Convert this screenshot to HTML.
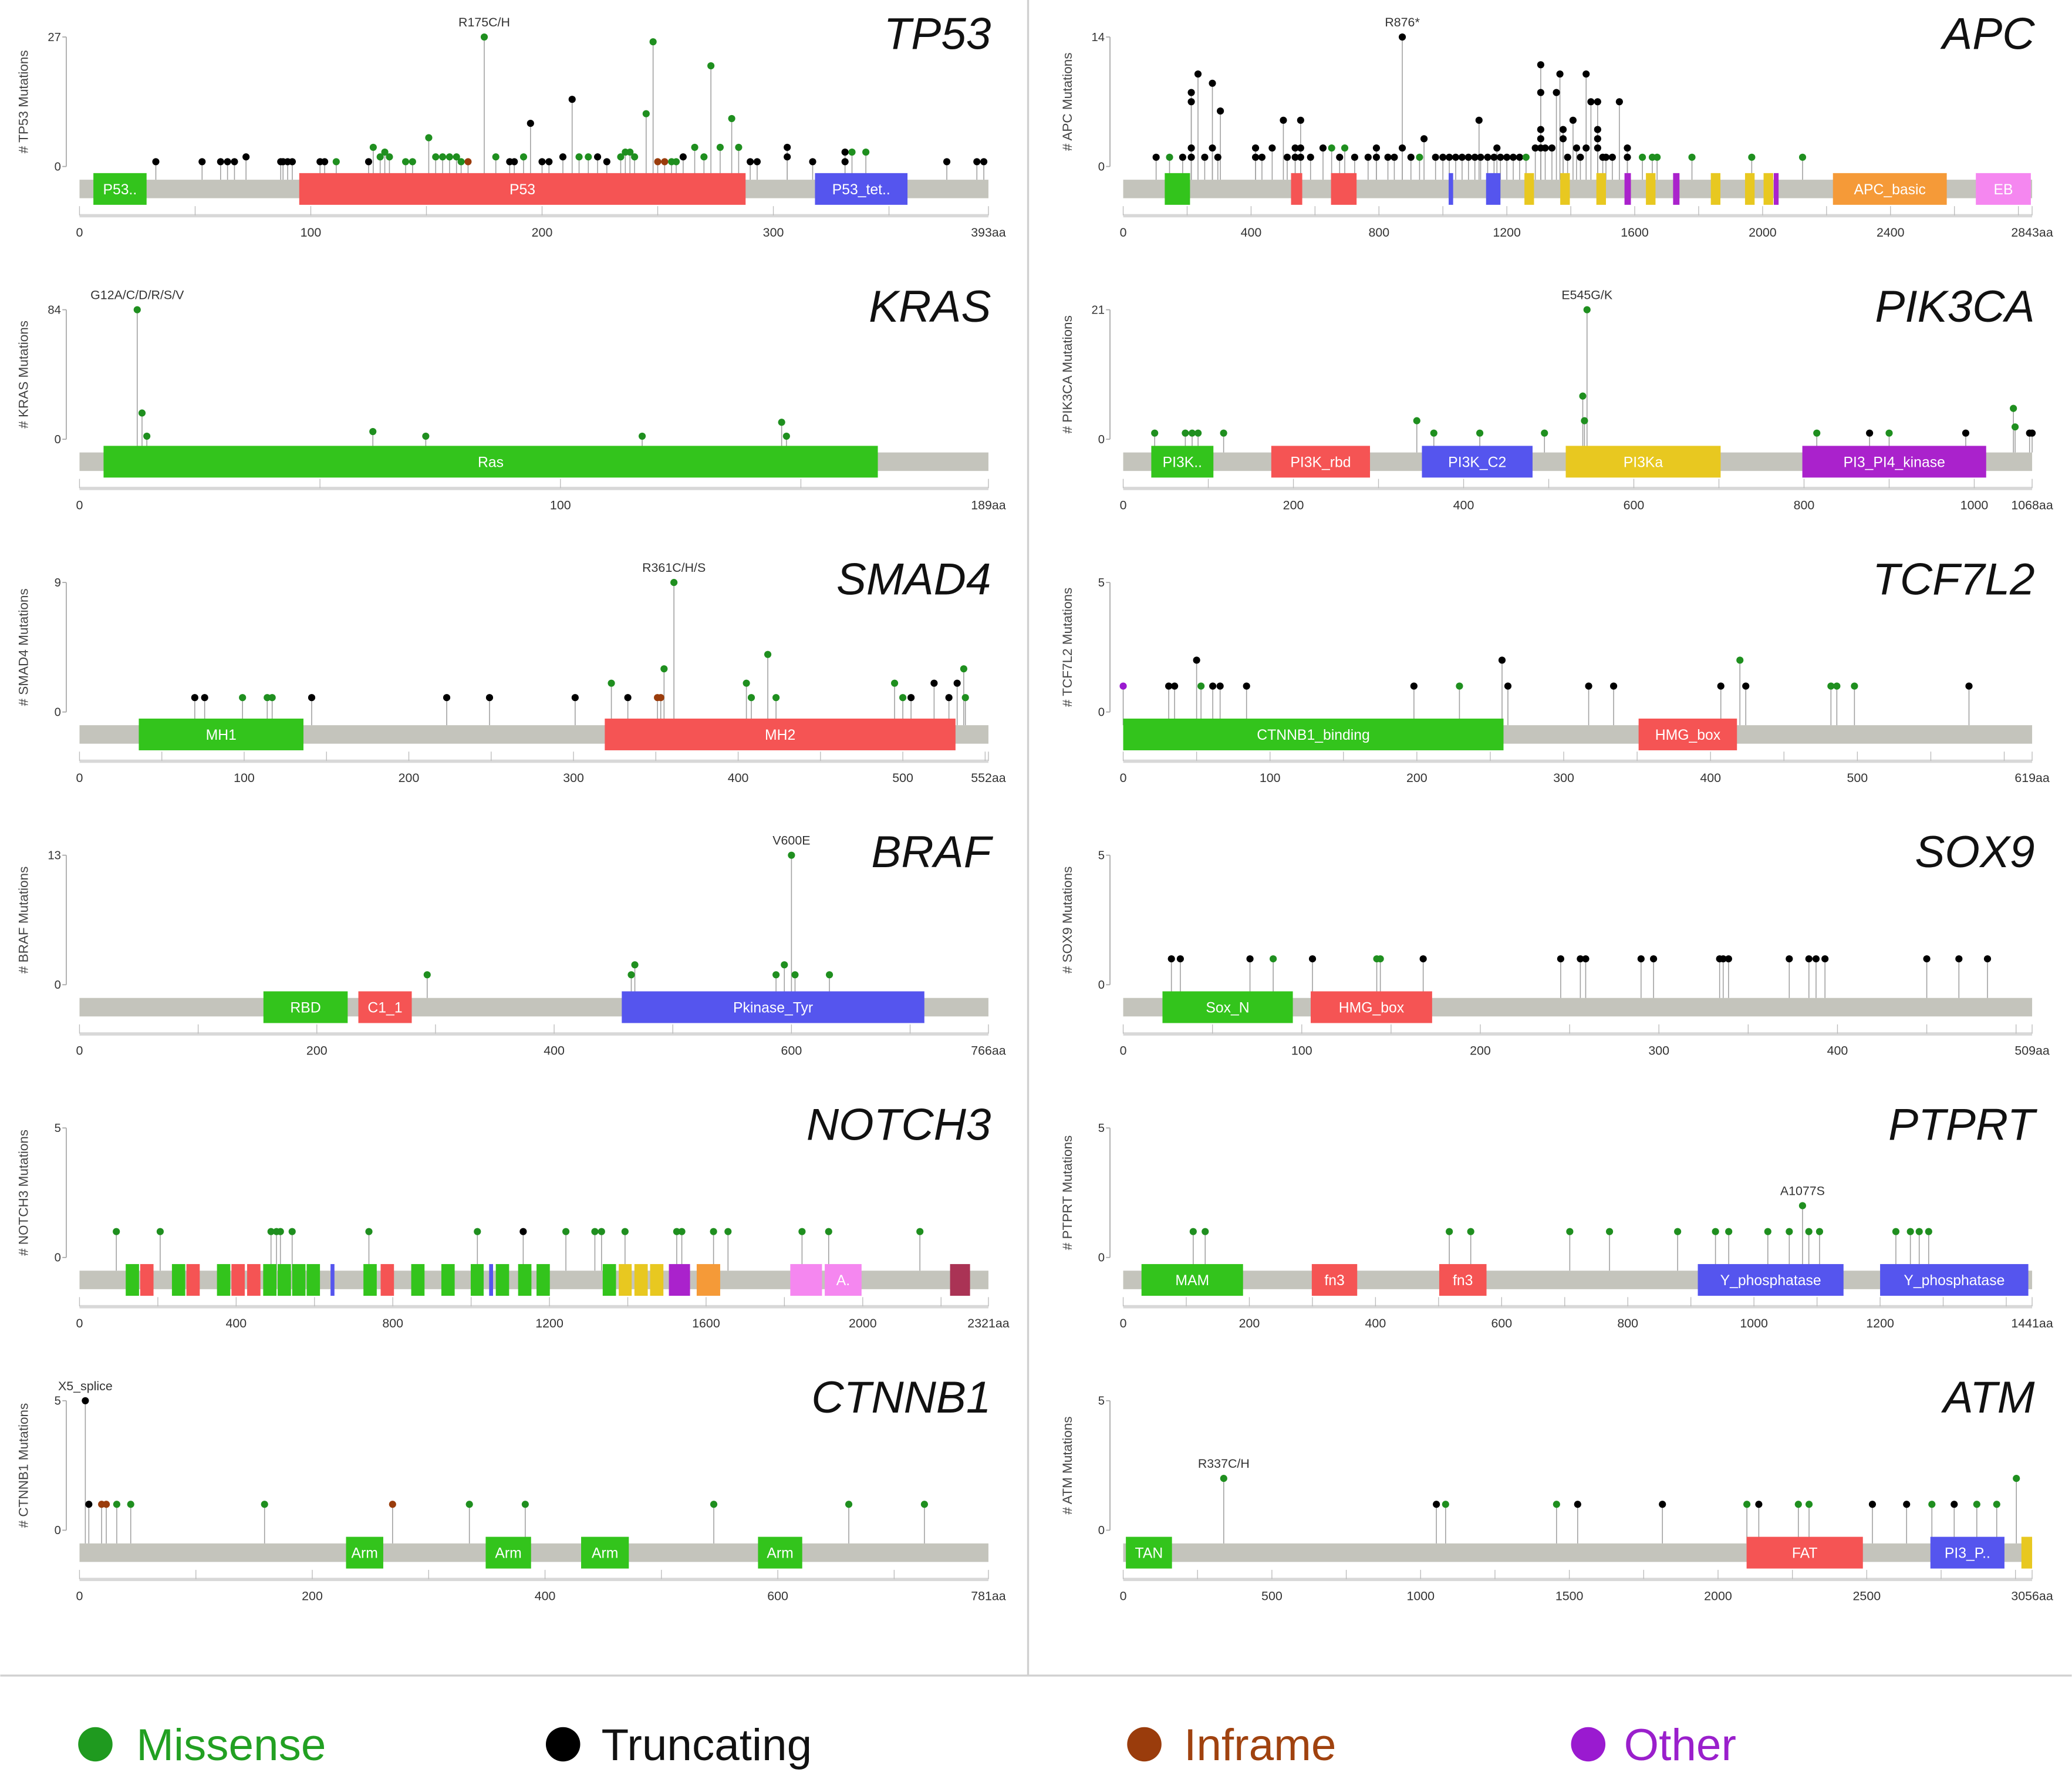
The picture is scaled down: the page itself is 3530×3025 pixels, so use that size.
<!DOCTYPE html>
<html><head><meta charset="utf-8"><style>
html,body{margin:0;padding:0;background:#fff}
svg{display:block}
text{font-family:"Liberation Sans",sans-serif}
</style></head><body>
<svg id="fig" xmlns="http://www.w3.org/2000/svg" width="3530" height="3025" viewBox="0 0 1568 1344">
<rect x="0" y="0" width="1568" height="1344" fill="#fff"/>
<line x1="778" y1="0" x2="778" y2="1268" stroke="#d0d0d0" stroke-width="1.5"/>
<line x1="0" y1="1268" x2="1568" y2="1268" stroke="#d0d0d0" stroke-width="1.5"/>
<g id="legend">
 <g><circle cx="72" cy="1320" r="13" fill="#1f9a1f"/><text x="103" y="1332" font-size="34" fill="#22a022">Missense</text></g>
 <g><circle cx="426" cy="1320" r="13" fill="#000"/><text x="455" y="1332" font-size="34" fill="#111">Truncating</text></g>
 <g><circle cx="866" cy="1320" r="13" fill="#9a3c0c"/><text x="896" y="1332" font-size="34" fill="#a0420f">Inframe</text></g>
 <g><circle cx="1202" cy="1320" r="13" fill="#9a1ad0"/><text x="1229" y="1332" font-size="34" fill="#9a1fcc">Other</text></g>
</g>
</svg>
<script>
// ---------- data ----------
const TP53_pos=[33,53,61,64,67,72,87,88,90,92,104,106,111,125,127,130,132,134,141,144,151,154,157,160,163,165,168,175,180,186,188,192,195,200,203,209,213,216,220,224,228,234,236,238,240,245,248,250,253,256,258,261,266,270,273,277,282,285,290,293,306,306,317,331,331,334,340,375,388,391];
const TP53_cnt=[1,1,1,1,1,2,1,1,1,1,1,1,1,1,4,2,3,2,1,1,6,2,2,2,2,1,1,27,2,1,1,2,9,1,1,2,14,2,2,2,1,2,3,3,2,11,26,1,1,1,1,2,4,2,21,4,10,4,1,1,4,2,1,3,1,3,3,1,1,1];
const TP53_type=["t","t","t","t","t","t","t","t","t","t","t","t","m","t","m","m","m","m","m","m","m","m","m","m","m","m","i","m","m","t","t","m","t","t","t","t","t","m","m","t","t","m","m","m","m","m","m","i","i","m","m","t","m","m","m","m","m","m","t","t","t","t","t","t","t","m","m","t","t","t"];
const TP53_dom=[[6,29,"P53..","#33c41c"],[95,288,"P53","#f55454"],[318,358,"P53_tet..","#5555ee"]];

const APC_pos=[103,145,186,213,213,213,213,234,255,279,279,296,304,414,414,434,466,501,513,538,538,555,555,555,586,625,652,677,693,724,766,792,792,828,848,873,873,900,927,941,977,1000,1020,1040,1060,1080,1100,1113,1118,1140,1160,1169,1180,1200,1220,1240,1260,1289,1306,1306,1306,1306,1306,1320,1341,1355,1366,1376,1376,1390,1407,1418,1430,1448,1448,1463,1484,1484,1484,1484,1500,1510,1530,1552,1577,1577,1624,1655,1670,1779,1966,2125];
const APC_cnt=[1,1,1,8,7,2,1,10,1,9,2,1,6,2,1,1,2,5,1,2,1,5,2,1,1,2,2,1,2,1,1,2,1,1,1,14,2,1,1,3,1,1,1,1,1,1,1,5,1,1,1,2,1,1,1,1,1,2,11,8,4,3,2,2,2,8,10,4,3,1,5,2,1,10,2,7,7,4,3,2,1,1,1,7,2,1,1,1,1,1,1,1];
const APC_type=["t","m","t","t","t","t","t","t","t","t","t","t","t","t","t","t","t","t","t","t","t","t","t","t","t","t","m","t","m","t","t","t","t","t","t","t","t","t","m","t","t","t","t","t","t","t","t","t","t","t","t","t","t","t","t","t","m","t","t","t","t","t","t","t","t","t","t","t","t","t","t","t","t","t","t","t","t","t","t","t","t","t","t","t","t","t","m","m","m","m","m","m"];
const APC_dom=[[130,209,"","#33c41c"],[525,560,"","#f55454"],[650,730,"","#f55454"],[1018,1032,"","#5555ee"],[1135,1180,"","#5555ee"],[1255,1285,"","#e8c820"],[1367,1397,"","#e8c820"],[1480,1510,"","#e8c820"],[1568,1588,"","#aa22cc"],[1635,1665,"","#e8c820"],[1720,1740,"","#aa22cc"],[1838,1868,"","#e8c820"],[1945,1975,"","#e8c820"],[2003,2033,"","#e8c820"],[2035,2050,"","#aa22cc"],[2220,2576,"APC_basic","#f59a38"],[2667,2839,"EB","#f587f0"]];

const KRAS_pos=[12,13,14,61,72,117,146,147];
const KRAS_cnt=[84,17,2,5,2,2,11,2];
const KRAS_type=["m","m","m","m","m","m","m","m"];
const KRAS_dom=[[5,166,"Ras","#33c41c"]];

const PIK3CA_pos=[37,73,81,88,118,345,365,419,495,540,542,545,815,877,900,990,1046,1048,1065,1068];
const PIK3CA_cnt=[1,1,1,1,1,3,1,1,1,7,3,21,1,1,1,1,5,2,1,1];
const PIK3CA_type=["m","m","m","m","m","m","m","m","m","m","m","m","m","t","m","t","m","m","t","t"];
const PIK3CA_dom=[[33,106,"PI3K..","#33c41c"],[174,290,"PI3K_rbd","#f55454"],[351,481,"PI3K_C2","#5555ee"],[520,702,"PI3Ka","#e8c820"],[798,1014,"PI3_PI4_kinase","#aa22cc"]];

const SMAD4_pos=[70,76,99,114,117,141,223,249,301,323,333,351,353,355,361,405,408,418,423,495,500,505,519,528,533,537,538];
const SMAD4_cnt=[1,1,1,1,1,1,1,1,1,2,1,1,1,3,9,2,1,4,1,2,1,1,2,1,2,3,1];
const SMAD4_type=["t","t","m","m","m","t","t","t","t","m","t","i","i","m","m","m","m","m","m","m","m","t","t","t","t","m","m"];
const SMAD4_dom=[[36,136,"MH1","#33c41c"],[319,532,"MH2","#f55454"]];

const TCF7L2_pos=[0,31,35,50,53,61,66,84,198,229,258,262,317,334,407,420,424,482,486,498,576];
const TCF7L2_cnt=[1,1,1,2,1,1,1,1,1,1,2,1,1,1,1,2,1,1,1,1,1];
const TCF7L2_type=["o","t","t","t","m","t","t","t","t","m","t","t","t","t","t","m","t","m","m","m","t"];
const TCF7L2_dom=[[0,259,"CTNNB1_binding","#33c41c"],[351,418,"HMG_box","#f55454"]];

const BRAF_pos=[293,465,468,587,594,600,603,632];
const BRAF_cnt=[1,1,2,1,2,13,1,1];
const BRAF_type=["m","m","m","m","m","m","m","m"];
const BRAF_dom=[[155,226,"RBD","#33c41c"],[235,280,"C1_1","#f55454"],[457,712,"Pkinase_Tyr","#5555ee"]];

const SOX9_pos=[27,32,71,84,106,142,144,168,245,256,259,290,297,334,336,339,373,384,388,393,450,468,484];
const SOX9_cnt=[1,1,1,1,1,1,1,1,1,1,1,1,1,1,1,1,1,1,1,1,1,1,1];
const SOX9_type=["t","t","t","m","t","m","m","t","t","t","t","t","t","t","t","t","t","t","t","t","t","t","t"];
const SOX9_dom=[[22,95,"Sox_N","#33c41c"],[105,173,"HMG_box","#f55454"]];

const NOTCH3_pos=[94,206,489,503,513,543,739,1016,1133,1242,1316,1333,1393,1525,1538,1619,1656,1845,1913,2146];
const NOTCH3_cnt=[1,1,1,1,1,1,1,1,1,1,1,1,1,1,1,1,1,1,1,1];
const NOTCH3_type=["m","m","m","m","m","m","m","m","t","m","m","m","m","m","m","m","m","m","m","m"];
const NOTCH3_dom=[[118,152,"","#33c41c"],[155,189,"","#f55454"],[236,270,"","#33c41c"],[273,307,"","#f55454"],[351,385,"","#33c41c"],[388,422,"","#f55454"],[428,462,"","#f55454"],[469,503,"","#33c41c"],[506,540,"","#33c41c"],[543,577,"","#33c41c"],[580,614,"","#33c41c"],[641,651,"","#5555ee"],[725,759,"","#33c41c"],[769,803,"","#f55454"],[847,881,"","#33c41c"],[924,958,"","#33c41c"],[999,1032,"","#33c41c"],[1046,1056,"","#5555ee"],[1063,1097,"","#33c41c"],[1120,1154,"","#33c41c"],[1167,1201,"","#33c41c"],[1336,1370,"","#33c41c"],[1377,1410,"","#e8c820"],[1417,1451,"","#e8c820"],[1457,1491,"","#e8c820"],[1505,1559,"","#aa22cc"],[1576,1636,"","#f59a38"],[1815,1896,"","#f587f0"],[1903,1997,"A.","#f587f0"],[2223,2274,"","#aa3355"]];

const PTPRT_pos=[111,130,517,551,708,771,879,939,960,1022,1056,1077,1087,1104,1225,1248,1262,1277];
const PTPRT_cnt=[1,1,1,1,1,1,1,1,1,1,1,2,1,1,1,1,1,1];
const PTPRT_type=["m","m","m","m","m","m","m","m","m","m","m","m","m","m","m","m","m","m"];
const PTPRT_dom=[[29,190,"MAM","#33c41c"],[299,371,"fn3","#f55454"],[501,576,"fn3","#f55454"],[911,1142,"Y_phosphatase","#5555ee"],[1200,1435,"Y_phosphatase","#5555ee"]];

const CTNNB1_pos=[5,8,19,23,32,44,159,269,335,383,545,661,726];
const CTNNB1_cnt=[5,1,1,1,1,1,1,1,1,1,1,1,1];
const CTNNB1_type=["t","t","i","i","m","m","m","i","m","m","m","m","m"];
const CTNNB1_dom=[[229,261,"Arm","#33c41c"],[349,388,"Arm","#33c41c"],[431,472,"Arm","#33c41c"],[583,621,"Arm","#33c41c"]];

const ATM_pos=[338,1053,1084,1457,1528,1813,2097,2137,2270,2306,2519,2634,2719,2794,2870,2937,3003];
const ATM_cnt=[2,1,1,1,1,1,1,1,1,1,1,1,1,1,1,1,2];
const ATM_type=["m","t","m","m","t","t","m","t","m","m","t","t","m","t","m","m","m"];
const ATM_dom=[[9,164,"TAN","#33c41c"],[2096,2487,"FAT","#f55454"],[2714,2963,"PI3_P..","#5555ee"],[3020,3056,"","#e8c820"]];

const GENES=[
 {name:"TP53",len:393,max:27,ticks:[0,100,200,300],minor:50,label:"R175C/H",pos:TP53_pos,cnt:TP53_cnt,type:TP53_type,dom:TP53_dom,col:0,row:0},
 {name:"APC",len:2843,max:14,ticks:[0,400,800,1200,1600,2000,2400],minor:200,label:"R876*",pos:APC_pos,cnt:APC_cnt,type:APC_type,dom:APC_dom,col:1,row:0},
 {name:"KRAS",len:189,max:84,ticks:[0,100],minor:50,label:"G12A/C/D/R/S/V",pos:KRAS_pos,cnt:KRAS_cnt,type:KRAS_type,dom:KRAS_dom,col:0,row:1},
 {name:"PIK3CA",len:1068,max:21,ticks:[0,200,400,600,800,1000],minor:100,label:"E545G/K",pos:PIK3CA_pos,cnt:PIK3CA_cnt,type:PIK3CA_type,dom:PIK3CA_dom,col:1,row:1},
 {name:"SMAD4",len:552,max:9,ticks:[0,100,200,300,400,500],minor:50,label:"R361C/H/S",pos:SMAD4_pos,cnt:SMAD4_cnt,type:SMAD4_type,dom:SMAD4_dom,col:0,row:2},
 {name:"TCF7L2",len:619,max:5,ticks:[0,100,200,300,400,500],minor:50,label:"",pos:TCF7L2_pos,cnt:TCF7L2_cnt,type:TCF7L2_type,dom:TCF7L2_dom,col:1,row:2},
 {name:"BRAF",len:766,max:13,ticks:[0,200,400,600],minor:100,label:"V600E",pos:BRAF_pos,cnt:BRAF_cnt,type:BRAF_type,dom:BRAF_dom,col:0,row:3},
 {name:"SOX9",len:509,max:5,ticks:[0,100,200,300,400],minor:50,label:"",pos:SOX9_pos,cnt:SOX9_cnt,type:SOX9_type,dom:SOX9_dom,col:1,row:3},
 {name:"NOTCH3",len:2321,max:5,ticks:[0,400,800,1200,1600,2000],minor:200,label:"",pos:NOTCH3_pos,cnt:NOTCH3_cnt,type:NOTCH3_type,dom:NOTCH3_dom,col:0,row:4},
 {name:"PTPRT",len:1441,max:5,ticks:[0,200,400,600,800,1000,1200],minor:100,label:"A1077S",pos:PTPRT_pos,cnt:PTPRT_cnt,type:PTPRT_type,dom:PTPRT_dom,col:1,row:4},
 {name:"CTNNB1",len:781,max:5,ticks:[0,200,400,600],minor:100,label:"X5_splice",pos:CTNNB1_pos,cnt:CTNNB1_cnt,type:CTNNB1_type,dom:CTNNB1_dom,col:0,row:5},
 {name:"ATM",len:3056,max:5,ticks:[0,500,1000,1500,2000,2500],minor:250,label:"R337C/H",pos:ATM_pos,cnt:ATM_cnt,type:ATM_type,dom:ATM_dom,col:1,row:5}
];
const COLORS={m:"#1f8f1f",t:"#000000",i:"#9a3c0c",o:"#9a1ad0"};
const TYPE_NAMES={m:"missense",t:"truncating",i:"inframe",o:"other"};

// ---------- drawing ----------
const NS="http://www.w3.org/2000/svg";
const svg=document.getElementById("fig");
function mk(tag,attrs,parent){const e=document.createElementNS(NS,tag);for(const k in attrs)e.setAttribute(k,attrs[k]);parent.appendChild(e);return e;}

GENES.forEach(g=>{
 const x0=g.col?850:60, W=688, dy=g.row*206.4;
 const yTop=28+dy, yZ=126+dy, barTop=136+dy;
 const sx=p=>x0+p/g.len*W;
 const sy=c=>yZ-c/g.max*(yZ-yTop);
 const low=g.name.toLowerCase();
 const grp=mk("g",{},svg);
 
 

 const title=mk("text",{x:x0+W+2,y:37+dy,"font-size":34,"font-style":"italic","text-anchor":"end",fill:"#111"},grp);
 title.textContent=g.name;
 
 

 const yl=mk("text",{x:0,y:0,"font-size":10,fill:"#444","text-anchor":"middle",transform:`translate(${x0-39},${(yTop+yZ)/2}) rotate(-90)`},grp);
 yl.textContent="# "+g.name+" Mutations";
 
 

 const ya=mk("g",{},grp);
 
 
 mk("line",{x1:x0-10,y1:yTop,x2:x0-10,y2:yZ,stroke:"#aaa","stroke-width":0.8},ya);
 [[g.max,yTop],[0,yZ]].forEach(([v,y])=>{
  mk("line",{x1:x0-13,y1:y,x2:x0-10,y2:y,stroke:"#aaa","stroke-width":0.8},ya);
  const t=mk("text",{x:x0-14,y:y+3,"font-size":9,"text-anchor":"end",fill:"#333"},ya);t.textContent=v;
 });

 const bb=mk("rect",{x:x0,y:barTop,width:W,height:14,fill:"#c4c4bc"},grp);
 
 

 const idx=g.pos.map((_,i)=>i).sort((a,b)=>g.cnt[b]-g.cnt[a]);
 idx.forEach(i=>{
  const st=mk("line",{x1:sx(g.pos[i]),y1:barTop,x2:sx(g.pos[i]),y2:sy(g.cnt[i]),stroke:"#a0a0a0","stroke-width":0.7},grp);
  
  
 });
 idx.forEach(i=>{
  const c=mk("circle",{cx:sx(g.pos[i]),cy:sy(g.cnt[i]),r:2.7,fill:COLORS[g.type[i]]},grp);
  
  
 });

 if(g.label){
  let bi=0;g.cnt.forEach((v,i)=>{if(v>g.cnt[bi])bi=i;});
  const lt=mk("text",{x:sx(g.pos[bi]),y:sy(g.cnt[bi])-8,"font-size":9.5,"text-anchor":"middle",fill:"#333"},grp);
  lt.textContent=g.label;
  
  
 }

 g.dom.forEach(d=>{
  const r=mk("rect",{x:sx(d[0]),y:barTop-5,width:Math.max(2,sx(d[1])-sx(d[0])),height:24,fill:d[3]},grp);
  
  
  if(d[2]){
   const t=mk("text",{x:(sx(d[0])+sx(d[1]))/2,y:barTop+11,"font-size":11,"text-anchor":"middle",fill:"#fff"},grp);
   t.textContent=d[2];
   
   
  }
 });

 const xa=mk("g",{},grp);
 
 
 mk("rect",{x:x0,y:162+dy,width:W,height:2.5,fill:"#d8d8d8"},xa);
 for(let v=0;v<=g.len;v+=g.minor){
  mk("line",{x1:sx(v),y1:156+dy,x2:sx(v),y2:163+dy,stroke:"#bbb","stroke-width":0.6},xa);
 }
 mk("line",{x1:x0+W,y1:156+dy,x2:x0+W,y2:163+dy,stroke:"#bbb","stroke-width":0.6},xa);
 g.ticks.forEach(v=>{
  const t=mk("text",{x:sx(v),y:179+dy,"font-size":9.5,"text-anchor":"middle",fill:"#333"},xa);t.textContent=v;
 });
 const te=mk("text",{x:x0+W,y:179+dy,"font-size":9.5,"text-anchor":"middle",fill:"#333"},xa);
 te.textContent=g.len+"aa";
});
</script>
</body></html>
